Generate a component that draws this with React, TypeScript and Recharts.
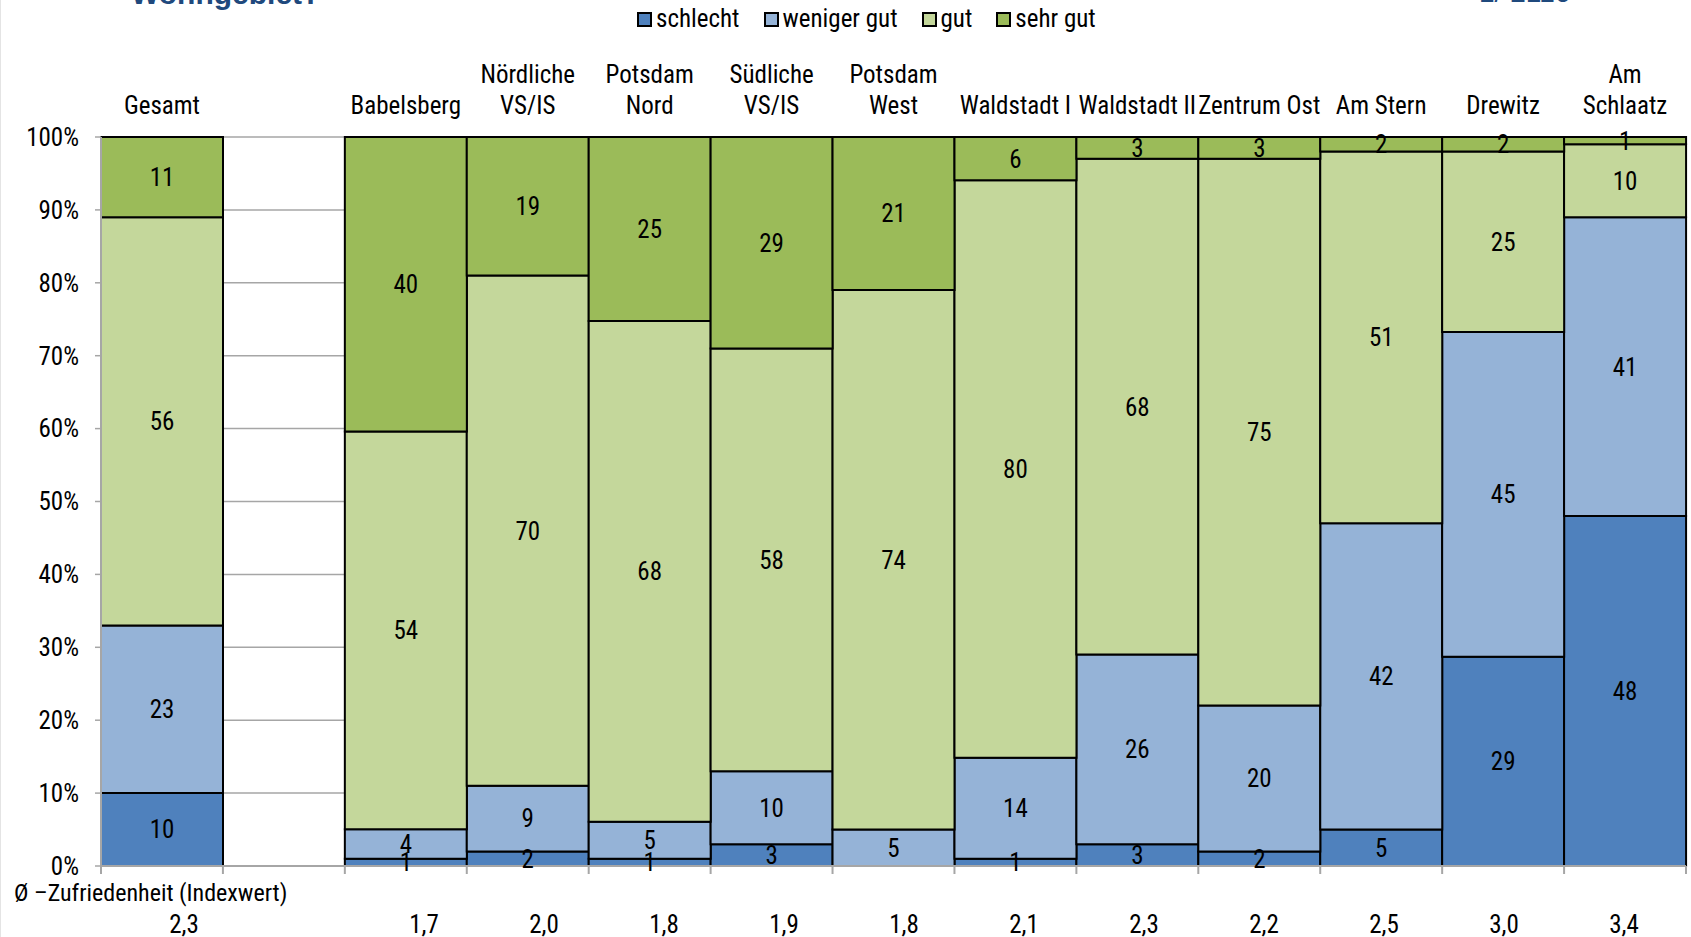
import React from "react";
import { Bar, BarChart, CartesianGrid, LabelList, XAxis, YAxis } from "recharts";

const categories = [
  "Gesamt",
  "",
  "Babelsberg",
  "Nördliche\nVS/IS",
  "Potsdam\nNord",
  "Südliche\nVS/IS",
  "Potsdam\nWest",
  "Waldstadt I",
  "Waldstadt II",
  "Zentrum Ost",
  "Am Stern",
  "Drewitz",
  "Am\nSchlaatz",
];
const schlecht = [10, 0, 1, 2, 1, 3, 0, 1, 3, 2, 5, 29, 48];
const wenigerGut = [23, 0, 4, 9, 5, 10, 5, 14, 26, 20, 42, 45, 41];
const gut = [56, 0, 54, 70, 68, 58, 74, 80, 68, 75, 51, 25, 10];
const sehrGut = [11, 0, 40, 19, 25, 29, 21, 6, 3, 3, 2, 2, 1];
const indexwert = ["2,3", "", "1,7", "2,0", "1,8", "1,9", "1,8", "2,1", "2,3", "2,2", "2,5", "3,0", "3,4"];
const yTicks = [0, 0.1, 0.2, 0.3, 0.4, 0.5, 0.6, 0.7, 0.8, 0.9, 1];

const series = [
  { key: "schlecht", label: "schlecht", color: "#4F81BD" },
  { key: "wenigerGut", label: "weniger gut", color: "#95B3D7" },
  { key: "gut", label: "gut", color: "#C4D79B" },
  { key: "sehrGut", label: "sehr gut", color: "#9BBB59" },
];

const data = categories.map((name, i) => ({
  id: "c" + i,
  name,
  schlecht: schlecht[i],
  wenigerGut: wenigerGut[i],
  gut: gut[i],
  sehrGut: sehrGut[i],
  idx: indexwert[i],
}));

const FONT = "'Liberation Sans Narrow', 'Arial Narrow', 'Roboto Condensed', sans-serif";
const GREY = "#A6A6A6";

function TopTick(props: any) {
  const { x, y, payload } = props;
  const lines = String(categories[payload.index] ?? "").split("\n").filter(Boolean);
  return (
    <g>
      {lines.map((t, i) => (
        <text
          key={i}
          x={x}
          y={y - 32 - (lines.length - 1 - i) * 31}
          textAnchor="middle"
          dominantBaseline="central"
          fontFamily={FONT}
          fontSize={25}
          fill="#000"
        >
          {t}
        </text>
      ))}
    </g>
  );
}

function BoundaryTick(props: any) {
  const { x, y, width, visibleTicksCount, index } = props;
  const band = (width || 1585) / (visibleTicksCount || categories.length);
  const left = x - band / 2;
  return (
    <g>
      <line x1={left} x2={left} y1={y} y2={y + 8} stroke={GREY} strokeWidth={2} />
      {index === visibleTicksCount - 1 && (
        <line x1={left + band} x2={left + band} y1={y} y2={y + 8} stroke={GREY} strokeWidth={2} />
      )}
    </g>
  );
}

function IndexTick(props: any) {
  const { x, y, payload } = props;
  return (
    <text x={x} y={y + 38} textAnchor="middle" dominantBaseline="central" fontFamily={FONT} fontSize={25} fill="#000">
      {indexwert[payload.index]}
    </text>
  );
}

export default function App() {
  return (
    <div style={{ position: "absolute", left: 0, top: 0, width: 1691, height: 937, background: "#fff", overflow: "hidden", borderLeft: "1px solid #e4e4e4", boxSizing: "border-box" }}>
      <div style={{ position: "absolute", left: 130, top: -21, fontFamily: "'Liberation Sans', Arial, sans-serif", fontWeight: 700, fontSize: 30, lineHeight: "30px", color: "#1F497D" }}>
        Wohngebiet?
      </div>
      <div style={{ position: "absolute", left: 1478, top: -22, fontFamily: "'Liberation Sans', Arial, sans-serif", fontSize: 28, lineHeight: "30px", color: "#1F497D" }}>
        1/ 2116
      </div>
      <div style={{ position: "absolute", left: 636, top: 4, display: "flex", gap: 24, fontFamily: FONT, fontSize: 25, lineHeight: "30px" }}>
        {series.map((s) => (
          <div key={s.key} style={{ display: "flex", alignItems: "center", gap: 4 }}>
            <span style={{ display: "inline-block", width: 11, height: 11, background: s.color, border: "2px solid #000" }} />
            <span>{s.label}</span>
          </div>
        ))}
      </div>
      <div style={{ position: "absolute", left: 13, top: 878, fontFamily: FONT, fontSize: 24, lineHeight: "30px" }}>
        Ø –Zufriedenheit (Indexwert)
      </div>
      <BarChart
        width={1691}
        height={937}
        data={data}
        stackOffset="expand"
        barCategoryGap={0}
        margin={{ top: 50, right: 6, bottom: 0, left: 0 }}
      >
        <CartesianGrid vertical={false} stroke={GREY} strokeWidth={1.5} />
        <XAxis
          xAxisId="axisB"
          dataKey="id"
          orientation="bottom"
          height={51}
          interval={0}
          tickSize={0}
          tickMargin={0}
          padding={{ left: 23, right: 2 }}
          axisLine={false}
          tickLine={false}
          tick={<IndexTick />}
        />
        <XAxis
          xAxisId="axisA"
          dataKey="id"
          orientation="bottom"
          height={20}
          interval={0}
          tickSize={0}
          tickMargin={0}
          axisLine={{ stroke: GREY, strokeWidth: 2 }}
          tickLine={false}
          tick={<BoundaryTick />}
        />
        <XAxis
          xAxisId="axisTop"
          dataKey="id"
          orientation="top"
          height={87}
          interval={0}
          tickSize={0}
          tickMargin={0}
          axisLine={false}
          tickLine={false}
          tick={<TopTick />}
        />
        <YAxis
          width={100}
          domain={[0, 1]}
          ticks={yTicks}
          interval={0}
          tickSize={6}
          tickMargin={16}
          tickFormatter={(v: number) => Math.round(v * 100) + "%"}
          tick={{ fontFamily: FONT, fontSize: 25, fill: "#000" }}
          axisLine={{ stroke: GREY, strokeWidth: 2 }}
          tickLine={{ stroke: GREY, strokeWidth: 1.5 }}
        />
        {series.map((s) => (
          <Bar
            key={s.key}
            xAxisId="axisA"
            dataKey={s.key}
            stackId="a"
            fill={s.color}
            stroke="#000"
            strokeWidth={2}
            isAnimationActive={false}
          >
            <LabelList
              dataKey={s.key}
              position="center"
              formatter={(v: any) => (v ? v : "")}
              style={{ fontFamily: FONT, fontSize: 25, fill: "#000" }}
            />
          </Bar>
        ))}
      </BarChart>
    </div>
  );
}
